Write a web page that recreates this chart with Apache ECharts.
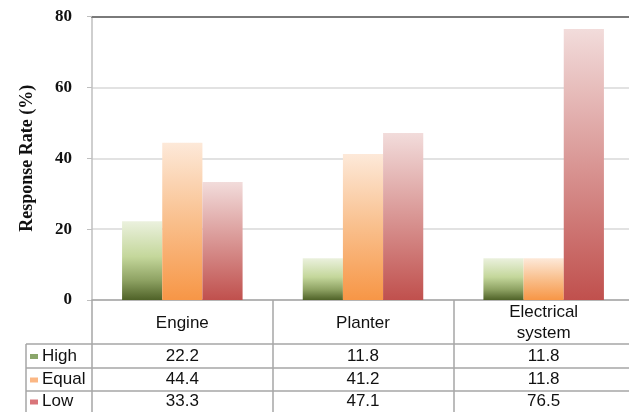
<!DOCTYPE html>
<html>
<head>
<meta charset="utf-8">
<script src="https://cdn.jsdelivr.net/npm/echarts@6/dist/echarts.min.js"></script>
<style>
  html, body { margin: 0; padding: 0; background: #fff; overflow: hidden; }
  #chart { width: 634px; height: 412px; }
</style>
</head>
<body>
<div id="chart"></div>
<script>
var categories = ['Engine', 'Planter', 'Electrical\nsystem'];
var seriesNames = ['High', 'Equal', 'Low'];
var high = [22.2, 11.8, 11.8];
var equal = [44.4, 41.2, 11.8];
var low = [33.3, 47.1, 76.5];
var yMax = 80;
var yStep = 20;

function grad(stops) {
  return {
    type: 'linear', x: 0, y: 0, x2: 0, y2: 1,
    colorStops: stops.map(function (s) { return { offset: s[0], color: s[1] }; })
  };
}

var fills = [
  grad([[0, '#ebf1de'], [0.45, '#c4d79b'], [0.75, '#8ea263'], [1, '#4f6228']]),
  grad([[0, '#fde9d9'], [0.5, '#f9bf8c'], [1, '#f79646']]),
  grad([[0, '#f2dcdb'], [0.5, '#d99694'], [1, '#c0504d']])
];
var keyColors = ['#8aa66b', '#fbb784', '#d9757a'];
var values = [high, equal, low];

var myChart = echarts.init(document.getElementById('chart'));

var textFont = 'Liberation Sans, Arial, sans-serif';
var serifFont = 'Liberation Serif, Times New Roman, serif';

myChart.setOption({
  animation: false,
  grid: { left: 92, top: 16.5, bottom: 112, right: 0 },
  xAxis: [{
    type: 'category',
    data: categories,
    axisLine: { lineStyle: { color: '#a6a6a6', width: 1.5 } },
    axisTick: { show: true, length: 112, lineStyle: { color: '#a6a6a6', width: 1.5 } },
    axisLabel: {
      margin: 23, verticalAlign: 'middle', lineHeight: 21,
      fontFamily: textFont, fontSize: 17, color: '#111'
    }
  }, {
    type: 'category',
    position: 'top',
    data: categories,
    axisLine: { lineStyle: { color: '#7a7a7a', width: 2 } },
    axisTick: { show: false },
    axisLabel: { show: false }
  }],
  yAxis: {
    type: 'value',
    min: 0, max: yMax, interval: yStep,
    name: 'Response Rate (%)',
    nameLocation: 'middle',
    nameGap: 56,
    nameTextStyle: { fontFamily: serifFont, fontWeight: 'bold', fontSize: 18, color: '#111' },
    axisLine: { show: true, lineStyle: { color: '#bfbfbf', width: 1.5 } },
    axisTick: { show: true, length: 5, lineStyle: { color: '#bfbfbf' } },
    axisLabel: { margin: 20, fontFamily: serifFont, fontWeight: 'bold', fontSize: 17, color: '#111' },
    splitLine: { lineStyle: { color: '#d9d9d9', width: 1.5 } }
  },
  series: seriesNames.map(function (name, i) {
    return {
      name: name,
      type: 'bar',
      data: values[i],
      barGap: 0,
      barCategoryGap: '33.3%',
      itemStyle: { color: fills[i] }
    };
  })
});

// data table under the axis
var rowLines = [344, 368, 391];
var rowCenters = [356, 379.5, 401.5];
var tableLeft = 26;
var graphics = [];
var lineStyle = { stroke: '#a6a6a6', lineWidth: 1.5 };

rowLines.forEach(function (y) {
  graphics.push({ type: 'line', shape: { x1: tableLeft, y1: y, x2: 634, y2: y }, style: lineStyle, silent: true });
});
graphics.push({ type: 'line', shape: { x1: tableLeft, y1: rowLines[0], x2: tableLeft, y2: 412 }, style: lineStyle, silent: true });

seriesNames.forEach(function (name, r) {
  var cy = rowCenters[r];
  graphics.push({ type: 'rect', shape: { x: 30, y: cy - 2, width: 8, height: 5 }, style: { fill: keyColors[r] }, silent: true });
  graphics.push({
    type: 'text', x: 42, y: cy,
    style: { text: name, font: '17px ' + textFont, fill: '#111', textVerticalAlign: 'middle', textAlign: 'left' },
    silent: true
  });
  values[r].forEach(function (v, c) {
    var px = myChart.convertToPixel({ xAxisIndex: 0 }, categories[c]);
    graphics.push({
      type: 'text', x: px, y: cy,
      style: { text: v.toFixed(1), font: '17px ' + textFont, fill: '#111', textVerticalAlign: 'middle', textAlign: 'center' },
      silent: true
    });
  });
});

myChart.setOption({ graphic: graphics });
</script>
</body>
</html>
